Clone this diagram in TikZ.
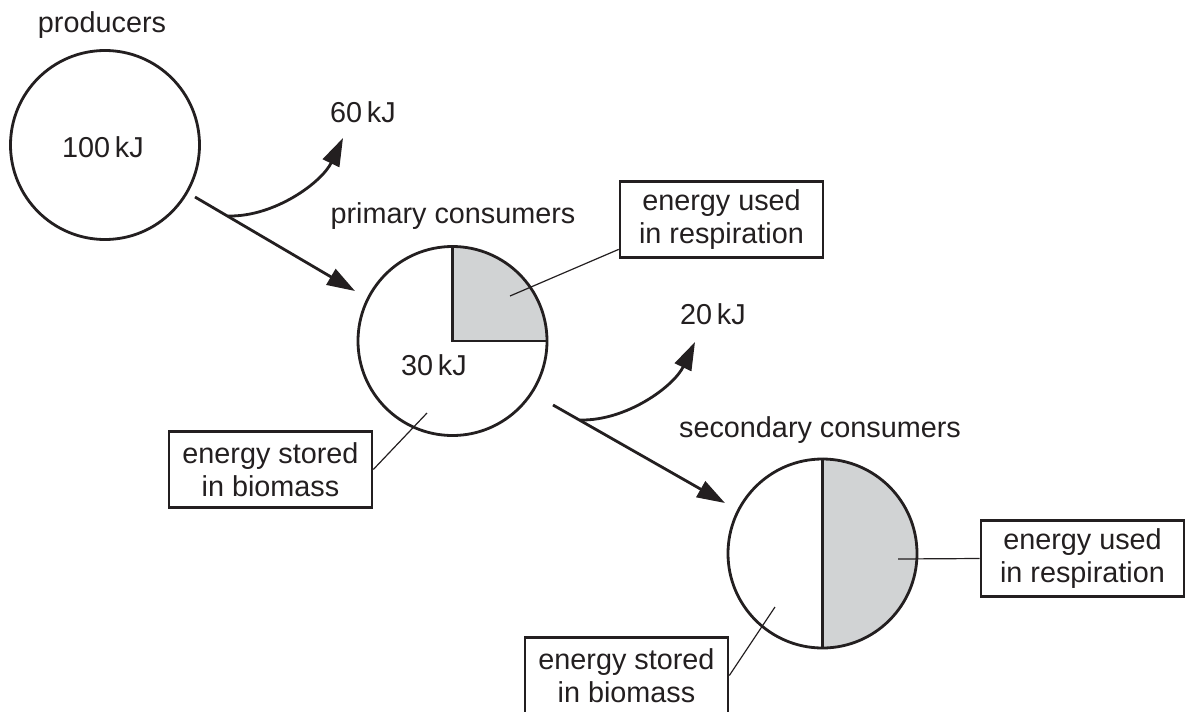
\documentclass[tikz,border=0pt]{standalone}
\usepackage{fontspec}
\setmainfont{Liberation Sans}
\usetikzlibrary{arrows.meta,calc,backgrounds}
\definecolor{ink}{HTML}{231F20}
\definecolor{sectorgrey}{HTML}{D1D3D4}
\begin{document}
\begin{tikzpicture}[x=1pt,y=-1pt,
  font=\fontsize{28.8}{33}\selectfont,
  pop/.style={circle, draw=ink, line width=2.8pt, minimum size=189pt, inner sep=0pt},
  lbl/.style={text=ink, inner sep=0pt, anchor=base},
  tag/.style={draw=ink, line width=2.6pt, align=center, minimum width=203pt,
              minimum height=76pt, inner sep=0pt, text=ink},
  flow/.style={draw=ink, line width=2.8pt, -{Triangle[length=28pt,width=18pt]}},
  leader/.style={draw=ink, line width=1.2pt},
  divider/.style={draw=ink, line width=2.8pt}]
\useasboundingbox (0,0) rectangle (1186,712);

% population circles
\node[pop] (prod) at (105,145) {};
\node[pop] (prim) at (452.5,341) {};
\node[pop] (sec) at (822.5,553.5) {};

% shaded sectors
\begin{scope}[on background layer]
  \begin{scope}
    \clip (prim.center) rectangle ($(prim.center)+(110,-110)$);
    \fill[sectorgrey] (prim.center) circle (94.5pt);
  \end{scope}
  \begin{scope}
    \clip ($(sec.center)+(0,-110)$) rectangle ($(sec.center)+(110,110)$);
    \fill[sectorgrey] (sec.center) circle (94.5pt);
  \end{scope}
\end{scope}
\draw[divider] (prim.north) -- (prim.center) -- (prim.east);
\draw[divider] (sec.north) -- (sec.south);

% labels
\node[lbl] (tprod) at (102,32) {producers};
\node[lbl] (eprod) at (103,157) {100\,kJ};
\node[lbl] (tprim) at (453,223) {primary consumers};
\node[lbl] (eprim) at (434,375) {30\,kJ};
\node[lbl] (tsec) at (820,437) {secondary consumers};
\node[lbl] (loss1) at (363,122) {60\,kJ};
\node[lbl] (loss2) at (713,324) {20\,kJ};

% boxes
\node[tag] (resp1) at (721.5,219.5) {energy used\\in respiration};
\node[tag] (bio1) at (270.5,469.5) {energy stored\\in biomass};
\node[tag] (resp2) at (1082.5,558.5) {energy used\\in respiration};
\node[tag] (bio2) at (626.5,675.5) {energy stored\\in biomass};

% flow arrows
\coordinate (a1s) at (195,197);
\coordinate (a1e) at (355,291);
\coordinate (b1s) at (228,216);
\coordinate (b1e) at (343,138);
\coordinate (a2s) at (553,405);
\coordinate (a2e) at (725,503);
\coordinate (b2s) at (580,420);
\coordinate (b2e) at (695,342);
\draw[flow] (a1s) -- (a1e);
\draw[flow] (b1s) .. controls (275,217) and (322,182) .. (b1e);
\draw[flow] (a2s) -- (a2e);
\draw[flow] (b2s) .. controls (627,421) and (674,386) .. (b2e);

% leader lines
\coordinate (l1) at (510,296);
\coordinate (l2) at (427,413);
\coordinate (l3) at (898,559);
\coordinate (l4) at (775,607);
\draw[leader] (l1) -- ($(resp1.south west)!0.12!(resp1.north west)$);
\draw[leader] (bio1.east) -- (l2);
\draw[leader] (l3) -- (resp2.west);
\draw[leader] (bio2.east) -- (l4);
\end{tikzpicture}
\end{document}
